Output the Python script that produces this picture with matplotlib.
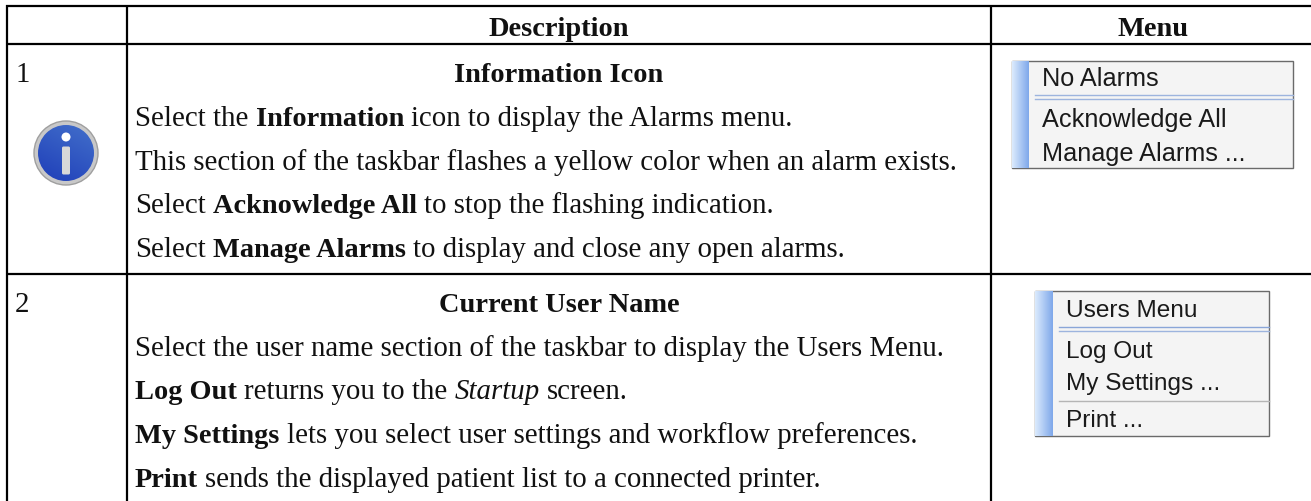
import numpy as np
import matplotlib
matplotlib.use("Agg")
import matplotlib.pyplot as plt
from matplotlib.patches import Circle, Rectangle, FancyBboxPatch

W, H = 1311, 502
SERIF = "Liberation Serif"
SANS = "Liberation Sans"
BODY = 20.8
BOLD = 20.4
INK = "#111111"

headers = ["Description", "Menu"]
row_numbers = ["1", "2"]
row_titles = ["Information Icon", "Current User Name"]
row1_lines = [
    [("Select the ", "n"), ("Information", "b"), (" icon to display the Alarms menu.", "n")],
    [("This section of the taskbar flashes a yellow color when an alarm exists.", "n")],
    [("Select ", "n"), ("Acknowledge All", "b"), (" to stop the flashing indication.", "n")],
    [("Select ", "n"), ("Manage Alarms", "b"), (" to display and close any open alarms.", "n")],
]
row2_lines = [
    [("Select the user name section of the taskbar to display the Users Menu.", "n")],
    [("Log Out", "b"), (" returns you to the ", "n"), ("Startup", "i"), (" screen.", "n")],
    [("My Settings", "b"), (" lets you select user settings and workflow preferences.", "n")],
    [("Print", "b"), (" sends the displayed patient list to a connected printer.", "n")],
]
menu1_items = ["No Alarms", "Acknowledge All", "Manage Alarms ..."]
menu2_items = ["Users Menu", "Log Out", "My Settings ...", "Print ..."]

fig = plt.figure(figsize=(W / 100, H / 100), dpi=100, facecolor="white")
ax = fig.add_axes([0, 0, 1, 1])
ax.set_xlim(0, W)
ax.set_ylim(H, 0)
ax.axis("off")

# grid: open on the right and at the bottom, as in the reference crop
GRID_LW = 1.6
for y in [7, 45, 275]:
    ax.plot([6, W], [y, y], color="black", lw=GRID_LW, solid_capstyle="butt")
for x in [7, 127, 991]:
    ax.plot([x, x], [6, H], color="black", lw=GRID_LW, solid_capstyle="butt")


def runs(x, y, parts):
    r = fig.canvas.get_renderer()
    space = BODY * 100 / 72 * 0.25
    for s, k in parts:
        core = s.strip()
        lead = len(s) - len(s.lstrip())
        trail = len(s) - len(s.rstrip())
        t = ax.text(x + lead * space, y, core, family=SERIF,
                    fontsize=BOLD if k == "b" else BODY, color=INK, va="baseline", ha="left",
                    weight="bold" if k == "b" else "normal",
                    style="italic" if k == "i" else "normal")
        x += t.get_window_extent(r).width + (lead + trail) * space


def centred(x, y, s):
    ax.text(x, y, s, family=SERIF, fontsize=BOLD, weight="bold", color=INK, ha="center", va="baseline")


centred(559, 36, headers[0])
centred(1153, 36, headers[1])
ax.text(15, 82, row_numbers[0], family=SERIF, fontsize=BODY, color=INK, va="baseline")
ax.text(15, 312, row_numbers[1], family=SERIF, fontsize=BODY, color=INK, va="baseline")
centred(559, 82, row_titles[0])
centred(559, 312, row_titles[1])
for y, line in zip([126, 170, 213, 257], row1_lines):
    runs(135, y, line)
for y, line in zip([356, 399, 443, 487], row2_lines):
    runs(135, y, line)


def menu(x0, y0, x1, y1, bar_w, items, ys, seps, size):
    ax.add_patch(Rectangle((x0, y0), x1 - x0, y1 - y0, fc="#f4f4f4", ec="#6a6a6a", lw=1, zorder=2))
    grad = np.linspace(0, 1, 32)[None, :, None]
    c0, c1 = np.array([0.86, 0.92, 0.99]), np.array([0.50, 0.66, 0.92])
    img = c0[None, None, :] * (1 - grad) + c1[None, None, :] * grad
    ax.imshow(img, extent=(x0, x0 + bar_w, y1, y0), aspect="auto", zorder=3)
    for s, y in zip(items, ys):
        ax.text(x0 + bar_w + 13, y, s, family=SANS, fontsize=size, color="#1a1a1a", va="baseline", zorder=4)
    for y, col in seps:
        ax.plot([x0 + bar_w + 6, x1], [y, y], color=col, lw=1, zorder=4)


menu(1012, 62, 1293, 169, 17, menu1_items, [86, 127, 161], [(96, "#9db4de"), (100, "#9db4de")], 18.2)
menu(1035, 292, 1269, 437, 18, menu2_items, [317, 358, 390, 427],
     [(328, "#8aa6d8"), (332, "#9db4de"), (402, "#b5b5b5")], 17.6)

# information icon
cx, cy, R = 66, 154, 32
ax.add_patch(Circle((cx, cy), R, fc="#c8c8c8", ec="#9f9f9f", lw=1, zorder=2))
yy, xx = np.mgrid[0:1:64j, 0:1:64j]
mix = np.clip((xx * 0.35 + (1 - yy) * 0.65), 0, 1)[..., None]
blue = np.array([0.11, 0.23, 0.72]) * (1 - mix) + np.array([0.27, 0.45, 0.80]) * mix
im = ax.imshow(blue, extent=(cx - R, cx + R, cy + R, cy - R), aspect="auto", zorder=3)
im.set_clip_path(Circle((cx, cy), R - 4, transform=ax.transData))
ax.add_patch(Circle((cx, cy - 16), 4.5, fc="white", ec="none", zorder=4))
ax.add_patch(FancyBboxPatch((cx - 2.5, cy - 5), 5, 25, boxstyle="round,pad=1.5", fc="#d8d8d8", ec="none", zorder=4))
ax.set_xlim(0, W)
ax.set_ylim(H, 0)

fig.savefig("out.png", dpi=100)
